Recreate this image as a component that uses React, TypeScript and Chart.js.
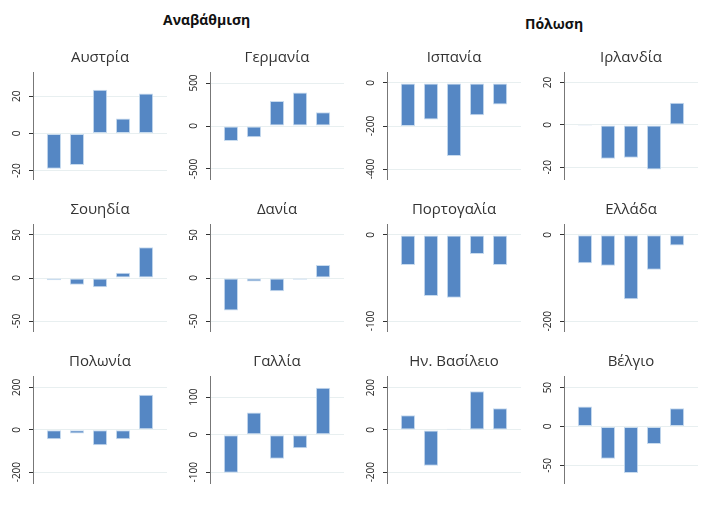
import React, { useEffect, useRef } from "react";
import { Chart, registerables } from "chart.js";
Chart.register(...registerables);

const titles = ["Αυστρία","Γερμανία","Ισπανία","Ιρλανδία","Σουηδία","Δανία","Πορτογαλία","Ελλάδα","Πολωνία","Γαλλία","Ην. Βασίλειο","Βέλγιο"];
const values: number[][] = [
  [-19, -17, 23.5, 8, 21.5],
  [-174, -130, 290, 390, 160],
  [-200, -170, -340, -150, -100],
  [-0.5, -16, -15.5, -21, 10.5],
  [-2.7, -7.7, -10.8, 6.2, 35.8],
  [-37.7, -4, -15.5, -2, 15],
  [-35, -71, -73, -22, -35],
  [-66, -71.5, -149, -81, -24.6],
  [-45, -17, -73, -45, 165],
  [-101, 59, -64, -36, 125],
  [69, -170, 6, 183, 102],
  [25.6, -41.5, -60, -22.6, 23.5],
];
const yMin = [-25, -628, -451, -26, -62.7, -62.7, -112.7, -225, -256, -131, -256, -74];
const yMax = [33, 628, 51, 25, 62.7, 62.7, 12.7, 25, 254, 156, 255, 65];
const tickVals: number[][] = [
  [-20, 0, 20], [-500, 0, 500], [-400, -200, 0], [-20, 0, 20],
  [-50, 0, 50], [-50, 0, 50], [-100, 0], [-200, 0],
  [-200, 0, 200], [-100, 0, 100], [-200, 0, 200], [-50, 0, 50],
];
const colLeft = [33, 210, 387, 564];
const rowTop = [72, 224, 376];
const PW = 134, PH = 108, PADL = 30, PADT = 34;

function Panel({ i }: { i: number }) {
  const ref = useRef<HTMLCanvasElement>(null);
  useEffect(() => {
    const labelPlugin = {
      id: "lbl",
      afterDraw(chart: any) {
        const { ctx, chartArea, scales } = chart;
        ctx.save();
        ctx.fillStyle = "#333";
        ctx.font = "15px 'Open Sans'";
        ctx.textAlign = "center";
        ctx.textBaseline = "alphabetic";
        ctx.fillText(titles[i], (chartArea.left + chartArea.right) / 2, chartArea.top - 10);
        ctx.font = "10px 'Open Sans'";
        ctx.fillStyle = "#222";
        for (const v of tickVals[i]) {
          const y = scales.y.getPixelForValue(v);
          ctx.save();
          ctx.translate(chartArea.left - 11, y);
          ctx.rotate(-Math.PI / 2);
          ctx.textAlign = "center";
          ctx.textBaseline = "bottom";
          ctx.fillText(String(v), 0, 0);
          ctx.restore();
        }
        ctx.restore();
      },
    };
    const c = new Chart(ref.current!, {
      type: "bar",
      data: {
        datasets: [{
          data: values[i].map((y, x) => ({ x, y })),
          backgroundColor: "#5587c4",
          borderColor: "#c9dcef",
          borderWidth: 1,
          borderSkipped: false,
          barPercentage: 0.62,
          categoryPercentage: 1,
        }],
      },
      options: {
        animation: false,
        responsive: false,
        maintainAspectRatio: false,
        layout: { padding: { left: 0, top: PADT, right: 0, bottom: 0 } },
        plugins: { legend: { display: false }, tooltip: { enabled: false } },
        scales: {
          x: {
            type: "linear", min: -0.91, max: 4.91, offset: false,
            afterFit: (s: any) => { s.height = 0; },
            ticks: { display: false },
            grid: { display: false, offset: false },
            border: { display: true, color: "#222", width: 1 },
          },
          y: {
            min: yMin[i], max: yMax[i],
            afterBuildTicks: (s: any) => { s.ticks = tickVals[i].map((v) => ({ value: v })); },
            afterFit: (s: any) => { s.width = PADL; },
            ticks: { display: false },
            grid: { color: "#e8eff0", tickColor: "#333", tickLength: 4, drawTicks: true },
            border: { display: true, color: "#777", width: 1 },
          },
        },
      },
      plugins: [labelPlugin],
    });
    return () => c.destroy();
  }, [i]);
  const col = i % 4, row = Math.floor(i / 4);
  return (
    <canvas
      ref={ref}
      width={PADL + PW}
      height={PADT + PH}
      style={{ position: "absolute", left: colLeft[col] - PADL, top: rowTop[row] - PADT, width: PADL + PW, height: PADT + PH }}
    />
  );
}

export default function App() {
  return (
    <div style={{ position: "relative", width: 720, height: 518, background: "#fff", margin: -8, fontFamily: "'Open Sans'" }}>
      <div style={{ position: "absolute", left: 163, top: 10, fontWeight: "bold", fontSize: 14, color: "#111" }}>Αναβάθμιση</div>
      <div style={{ position: "absolute", left: 525, top: 14, fontWeight: "bold", fontSize: 14, color: "#111" }}>Πόλωση</div>
      {titles.map((_, i) => <Panel key={i} i={i} />)}
    </div>
  );
}
